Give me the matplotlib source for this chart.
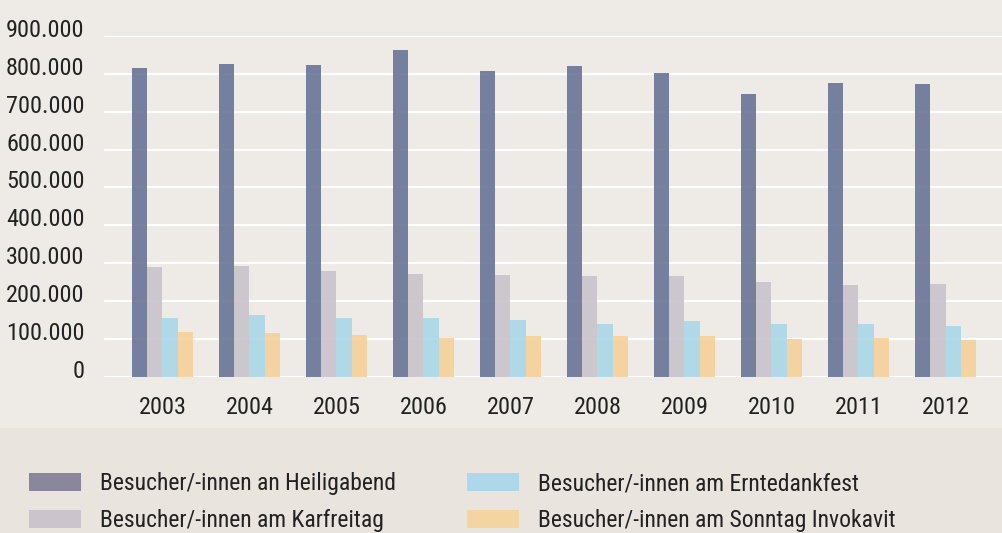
import matplotlib
matplotlib.use("Agg")
import matplotlib.pyplot as plt
import matplotlib.transforms as mtransforms
from matplotlib.patches import Patch, Rectangle
import numpy as np

years = ["2003", "2004", "2005", "2006", "2007", "2008", "2009", "2010", "2011", "2012"]
heiligabend = [815000, 826000, 823000, 863000, 808000, 821000, 802000, 747000, 776000, 773000]
karfreitag = [290000, 292000, 279000, 271000, 269000, 266000, 266000, 250000, 242000, 245000]
erntedank = [155000, 163000, 155000, 155000, 150000, 139000, 147000, 139000, 139000, 134000]
invokavit = [118000, 115000, 110000, 102000, 107000, 107000, 107000, 100000, 102000, 97000]

labels = ["Besucher/-innen an Heiligabend", "Besucher/-innen am Karfreitag",
          "Besucher/-innen am Erntedankfest", "Besucher/-innen am Sonntag Invokavit"]
bar_colors = ["#6B7798", "#CAC3CB", "#ABD8E9", "#F6D29A"]
legend_colors = ["#8A869C", "#CBC4CC", "#ADD8E9", "#F4D4A0"]
yticks = [0, 100000, 200000, 300000, 400000, 500000, 600000, 700000, 800000, 900000]
ytick_labels = ["0", "100.000", "200.000", "300.000", "400.000", "500.000",
                "600.000", "700.000", "800.000", "900.000"]

plt.rcParams['font.family'] = ['Roboto Condensed', 'Archivo Narrow', 'PT Sans Narrow',
                               'IBM Plex Sans Condensed', 'DejaVu Sans']
W, H = 1003, 533
fig = plt.figure(figsize=(W / 100, H / 100), dpi=100)
fig.patch.set_facecolor("#EEEAE6")
fig.add_artist(Rectangle((0, 0), 1, (H - 428) / H, transform=fig.transFigure,
                         facecolor="#EAE4DF", edgecolor="none", zorder=0))

ax = fig.add_axes([104 / W, (H - 376.7) / H, 1 - 104 / W, (376.7 - 36) / H])
ax.set_facecolor("none")
x = np.arange(len(years))
w = 0.176
series = [heiligabend, karfreitag, erntedank, invokavit]
for i, (vals, c) in enumerate(zip(series, bar_colors)):
    ax.bar(x + (i - 1.5) * w, vals, width=w, color=c, alpha=0.92, zorder=2, linewidth=0)

ax.set_xlim((104 - 162.5) / 87, (1003 - 162.5) / 87)
ax.set_ylim(0, 900000)
ax.set_yticks(yticks)
ax.set_yticklabels(ytick_labels)
ax.set_xticks(x)
ax.set_xticklabels(years)
ax.grid(axis='y', color='white', linewidth=1.6, zorder=1)
ax.set_axisbelow(True)
for s in ax.spines.values():
    s.set_visible(False)
ax.tick_params(axis='both', length=0, labelsize=17.5, colors="#222222")
ax.tick_params(axis='y', pad=14)
ax.tick_params(axis='x', pad=14)
off = mtransforms.ScaledTranslation(0, 8 / 100, fig.dpi_scale_trans)
for lab in ax.get_yticklabels():
    lab.set_transform(lab.get_transform() + off)

handles = [Patch(facecolor=c, edgecolor='none') for c in legend_colors]
fs = 17
leg = fig.legend(handles, labels, ncol=2, loc='upper left',
                 bbox_to_anchor=(29 / W, (H - 472) / H), frameon=False,
                 fontsize=fs, handlelength=52 / 23.6, handleheight=19 / 23.6,
                 handletextpad=0.8, columnspacing=3.0, labelspacing=0.6,
                 borderpad=0, borderaxespad=0)
for t in leg.get_texts():
    t.set_color("#222222")

fig.savefig("out.png", dpi=100, facecolor=fig.get_facecolor())
